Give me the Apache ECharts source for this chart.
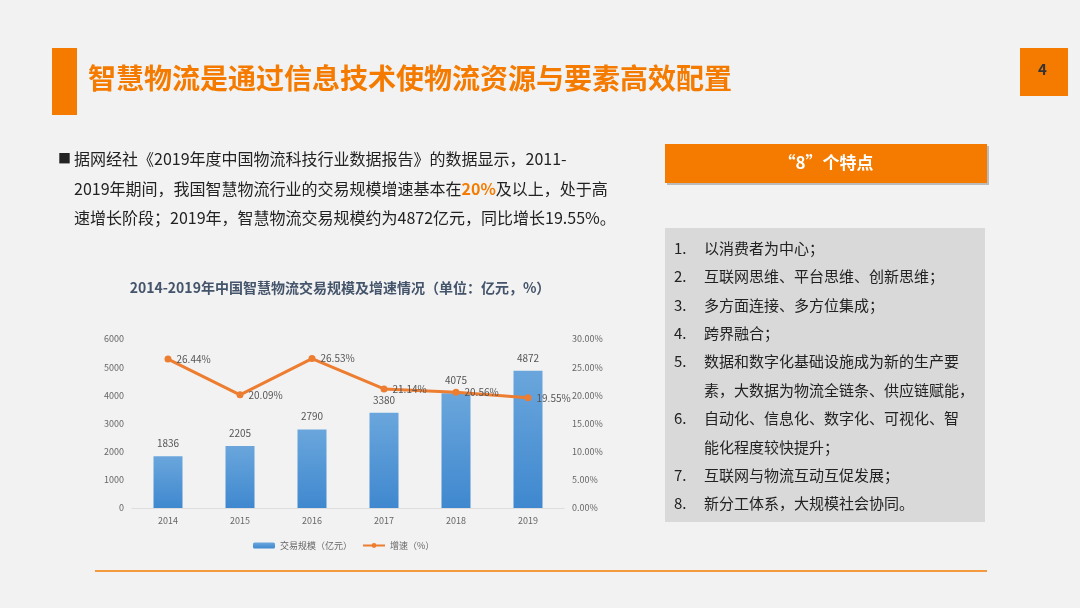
<!DOCTYPE html>
<html>
<head>
<meta charset="utf-8">
<script src="https://cdn.jsdelivr.net/npm/echarts@6/dist/echarts.min.js"></script>
<style>
html,body{margin:0;padding:0;background:#f2f2f2;}
#main{width:1080px;height:608px;}
</style>
</head>
<body>
<div id="main"></div>
<script>
var years = ['2014','2015','2016','2017','2018','2019'];
var scale = [1836, 2205, 2790, 3380, 4075, 4872];
var growth = [26.44, 20.09, 26.53, 21.14, 20.56, 19.55];
var points = [
	'以消费者为中心；',
	'互联网思维、平台思维、创新思维；',
	'多方面连接、多方位集成；',
	'跨界融合；',
	'数据和数字化基础设施成为新的生产要',
	'素，大数据为物流全链条、供应链赋能，',
	'自动化、信息化、数字化、可视化、智',
	'能化程度较快提升；',
	'互联网与物流互动互促发展；',
	'新分工体系，大规模社会协同。'
];
var nums = ['1.','2.','3.','4.','5.','','6.','','7.','8.'];
var FONT = '"Noto Sans CJK SC", sans-serif';

var chart = echarts.init(document.getElementById('main'));

//幻灯片上的其他元素
var g = [
	{type:'rect', shape:{x:52,y:48,width:25,height:67}, style:{fill:'#f47b00'}},
	{type:'text', left:88, top:64, style:{text:'智慧物流是通过信息技术使物流资源与要素高效配置', fill:'#f47b00', font:'bold 28px ' + FONT}},
	{type:'rect', shape:{x:1020,y:48,width:48,height:48}, style:{fill:'#f47b00'}},
	{type:'text', left:1038, top:62, style:{text:'4', fill:'#333', font:'bold 15px ' + FONT}},
	{type:'text', left:58, top:152, style:{text:'■', fill:'#222', font:'13px ' + FONT}},
	{type:'text', left:74, top:151, style:{text:'据网经社《2019年度中国物流科技行业数据报告》的数据显示，2011-', fill:'#222', font:'16px ' + FONT}},
	{type:'text', left:74, top:181, style:{rich:{a:{fill:'#222',font:'16px ' + FONT},b:{fill:'#f47b00',font:'bold 16px ' + FONT}}, text:'{a|2019年期间，我国智慧物流行业的交易规模增速基本在}{b|20%}{a|及以上，处于高}'}},
	{type:'text', left:74, top:210, style:{text:'速增长阶段；2019年，智慧物流交易规模约为4872亿元，同比增长19.55%。', fill:'#222', font:'16px ' + FONT}},
	{type:'rect', shape:{x:667,y:146,width:322,height:39}, style:{fill:'#bbb'}},
	{type:'rect', shape:{x:665,y:144,width:322,height:39}, style:{fill:'#f47b00'}},
	{type:'text', x:826, y:163, style:{text:'“8”个特点', fill:'#fff', font:'bold 17px ' + FONT, align:'center', verticalAlign:'middle'}},
	{type:'rect', shape:{x:665,y:228,width:320,height:294}, style:{fill:'#d9d9d9'}},
	{type:'line', shape:{x1:95,y1:571,x2:987,y2:571}, style:{stroke:'#f47b00', lineWidth:1.5}}
];
for (var i = 0; i < points.length; i++) {
	var y = 248 + i * 28.4;
	g.push({type:'text', x:674, y:y, style:{text:nums[i], fill:'#222', font:'15px ' + FONT, verticalAlign:'middle'}});
	g.push({type:'text', x:704, y:y, style:{text:points[i], fill:'#222', font:'15px ' + FONT, verticalAlign:'middle'}});
}

var option = {
	textStyle:{fontFamily:FONT},
	graphic:g,
	title:{
		text:'2014-2019年中国智慧物流交易规模及增速情况（单位：亿元，%）',
		left:335, textAlign:'center', top:276,
		textStyle:{fontSize:14, fontWeight:'bold', color:'#44546a'}
	},
	legend:{
		top:536, left:248,
		itemWidth:22, itemHeight:6, itemGap:10,
		textStyle:{fontSize:9, color:'#666'},
		data:['交易规模（亿元）','增速（%）']
	},
	grid:{left:132, right:516, top:339, bottom:100},
	xAxis:{
		type:'category', data:years,
		axisLine:{lineStyle:{color:'#ddd'}}, axisTick:{show:false},
		axisLabel:{color:'#666', fontSize:9}
	},
	yAxis:[
		{type:'value', min:0, max:6000, interval:1000, splitLine:{show:false},
			axisLabel:{color:'#666', fontSize:9, formatter:function(v){return String(v);}}},
		{type:'value', min:0, max:30, interval:5, splitLine:{show:false},
			axisLabel:{color:'#666', fontSize:9, formatter:function(v){return v.toFixed(2)+'%';}}}
	],
	series:[
		{
			name:'交易规模（亿元）', type:'bar', data:scale, barWidth:29,
			itemStyle:{color:new echarts.graphic.LinearGradient(0,0,0,1,[{offset:0,color:'#6aa6dc'},{offset:1,color:'#3f88cf'}])},
			label:{show:true, position:'top', color:'#555', fontSize:10, distance:8}
		},
		{
			name:'增速（%）', type:'line', yAxisIndex:1, data:growth,
			symbol:'circle', symbolSize:7,
			lineStyle:{color:'#ed7d31', width:3}, itemStyle:{color:'#ed7d31'},
			label:{show:true, position:'right', color:'#555', fontSize:10,
				formatter:function(p){return p.value.toFixed(2)+'%';}}
		}
	]
};
chart.setOption(option);
</script>
</body>
</html>
